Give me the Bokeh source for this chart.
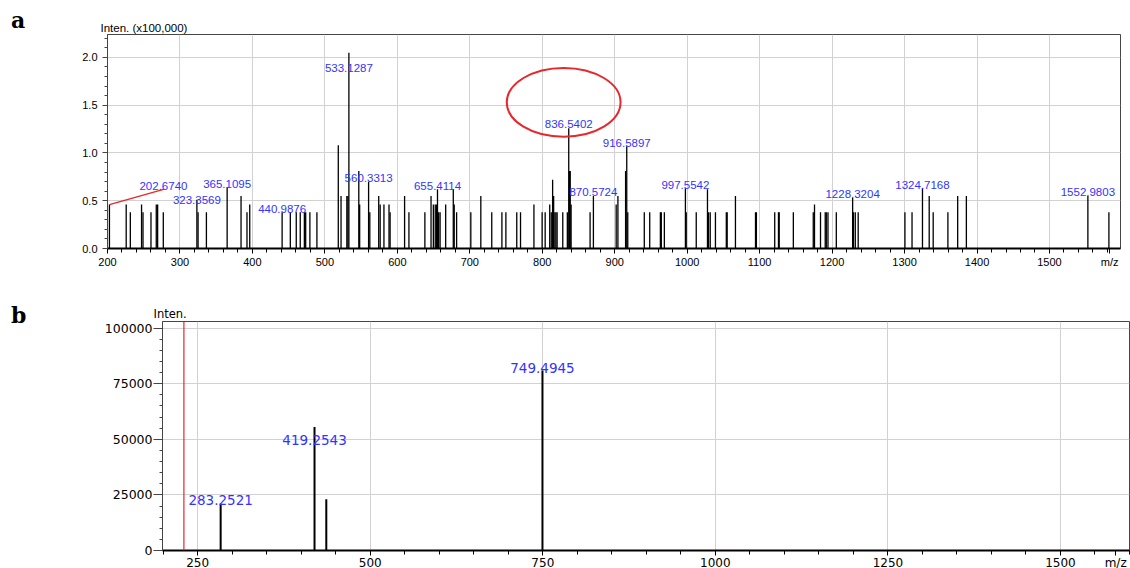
from bokeh.plotting import figure
from bokeh.models import (ColumnDataSource, FixedTicker, Range1d, Div,
                          PrintfTickFormatter, Span)
from bokeh.layouts import row
from bokeh.core.properties import value
from bokeh.embed import file_html
from bokeh.resources import INLINE

# ---------------- spectrum a (intensity in units of 100,000) ----------------
a_mz = [202.6740, 225.8, 231.5, 247.0, 249.0, 260.0, 267.3, 269.2, 277.0,
        323.3569, 325.0, 336.5, 365.1095, 384.3, 392.5, 396.3,
        440.9876, 452.3, 460.5, 466.0, 471.7, 473.5, 479.3, 489.0,
        518.5, 522.3, 530.3, 531.8, 533.1287, 546.8, 548.0, 560.3313, 562.0,
        574.3, 576.3, 581.5, 588.5, 590.0, 610.0, 616.0, 638.0, 646.5, 649.7,
        652.3, 654.0, 655.4114, 657.0, 659.0, 666.7, 677.2, 678.5, 681.8,
        701.4, 715.2, 730.3, 744.3, 749.8, 764.8, 770.0, 788.5, 799.8, 804.0,
        810.3, 812.4, 814.3, 815.7, 817.4, 818.9, 820.5, 828.3, 834.6,
        836.5402, 837.5, 838.6, 839.8, 866.0, 870.5724,
        902.0, 904.4, 915.0, 916.5897, 918.0, 940.8, 948.3, 963.0, 964.3,
        968.5, 997.5542, 998.7,
        1012.5, 1028.0, 1029.4, 1031.8, 1039.0, 1054.0, 1055.2, 1066.6,
        1094.3, 1095.5, 1120.8, 1126.0, 1127.0, 1146.5, 1174.0, 1175.7,
        1184.0, 1190.5, 1192.0, 1194.3, 1205.8, 1228.3204, 1229.5, 1232.0,
        1236.0, 1300.5, 1310.3, 1324.7168, 1334.0, 1339.5, 1359.8, 1373.3,
        1385.3, 1552.9803, 1582.0]
a_int = [0.46, 0.46, 0.38, 0.46, 0.38, 0.38, 0.46, 0.46, 0.38,
         0.51, 0.38, 0.38, 0.64, 0.55, 0.38, 0.46,
         0.38, 0.38, 0.38, 0.38, 0.38, 0.38, 0.38, 0.38,
         1.08, 0.55, 0.55, 0.55, 2.05, 0.81, 0.46, 0.70, 0.38,
         0.55, 0.46, 0.46, 0.46, 0.38, 0.55, 0.38, 0.38, 0.55, 0.46,
         0.46, 0.46, 0.62, 0.38, 0.38, 0.46, 0.62, 0.46, 0.38,
         0.38, 0.55, 0.38, 0.38, 0.38, 0.38, 0.38, 0.46, 0.38, 0.38,
         0.46, 0.38, 0.72, 0.55, 0.38, 0.38, 0.38, 0.38, 0.38,
         1.26, 0.81, 0.81, 0.46, 0.38, 0.55,
         0.46, 0.55, 0.81, 1.07, 0.38, 0.38, 0.38, 0.38, 0.38,
         0.38, 0.63, 0.38,
         0.38, 0.62, 0.38, 0.38, 0.38, 0.38, 0.38, 0.55,
         0.38, 0.38, 0.38, 0.38, 0.38, 0.38, 0.38, 0.46,
         0.38, 0.38, 0.38, 0.38, 0.38, 0.53, 0.38, 0.38,
         0.38, 0.38, 0.38, 0.63, 0.55, 0.38, 0.38, 0.55,
         0.55, 0.55, 0.38]
a_labels = [202.6740, 323.3569, 365.1095, 440.9876, 533.1287, 560.3313,
            655.4114, 836.5402, 870.5724, 916.5897, 997.5542, 1228.3204,
            1324.7168, 1552.9803]
a_highlight = 836.5402
a_xticks = [200, 300, 400, 500, 600, 700, 800, 900, 1000, 1100, 1200, 1300, 1400, 1500]
a_yticks = [0.0, 0.5, 1.0, 1.5, 2.0]

# ---------------- spectrum b (absolute intensity) ----------------
b_mz = [283.2521, 419.2543, 436.3, 749.4945]
b_int = [21000, 55500, 23100, 81000]
b_labels = [283.2521, 419.2543, 749.4945]
b_marker = 230.0
b_xticks = [250, 500, 750, 1000, 1250, 1500]
b_yticks = [0, 25000, 50000, 75000, 100000]

BLUE = "#3333ff"
RED = "#e8262b"
GRID = "#d2d2d2"
FRAME = "#454545"
LETTER_W = 40  # width of the column holding the panel letter
PAD_L = 11


def panel_letter(letter, height, top_pad):
    return Div(text=letter, width=LETTER_W, height=height - top_pad,
               margin=0,
               styles={"font-family": "'DejaVu Serif'", "font-weight": "bold",
                       "font-size": "22px", "line-height": "22px",
                       "padding-left": f"{PAD_L}px",
                       "padding-top": f"{top_pad}px",
                       "color": "black"})


def style_axes(p, font, size, tick_out_x, tick_out_y, minor_out, standoff_y):
    p.outline_line_color = FRAME
    p.outline_line_width = 1
    p.background_fill_color = "white"
    p.border_fill_color = "white"
    for ax in p.xaxis:
        ax.axis_line_color = "black"
        ax.axis_line_width = 2
        ax.major_tick_out = tick_out_x
        ax.major_tick_in = 0
        ax.minor_tick_out = minor_out
        ax.minor_tick_in = 0
        ax.major_tick_line_color = "black"
        ax.minor_tick_line_color = "black"
        ax.major_label_text_font = font
        ax.major_label_text_font_size = size
        ax.major_label_text_color = "black"
        ax.major_label_standoff = 2
    for ax in p.yaxis:
        ax.axis_line_color = FRAME
        ax.axis_line_width = 1
        ax.major_tick_out = tick_out_y
        ax.major_tick_in = 0
        ax.minor_tick_out = minor_out - 1
        ax.minor_tick_in = 0
        ax.major_tick_line_color = FRAME
        ax.minor_tick_line_color = FRAME
        ax.major_label_text_font = font
        ax.major_label_text_font_size = size
        ax.major_label_text_color = "black"
        ax.major_label_standoff = standoff_y
    p.xgrid.grid_line_color = GRID
    p.ygrid.grid_line_color = GRID
    p.xgrid.grid_line_width = 1
    p.ygrid.grid_line_width = 1


# ================= panel a =================
ax0, ax1, ay0, ay1 = 200, 1598, 0, 2.24
fw1, fh1 = 1013, 214
mz_tick_a = 1583  # position of the "m/z" caption on the axis
p1 = figure(frame_width=fw1, frame_height=fh1,
            x_range=Range1d(ax0, ax1), y_range=Range1d(ay0, ay1),
            output_backend="svg", toolbar_location=None,
            min_border_left=107 - LETTER_W, min_border_right=10,
            min_border_top=34, min_border_bottom=40)
p1.title.text = "Inten. (x100,000)"
p1.title.align = "left"
p1.title.offset = -7
p1.title.standoff = 1
p1.title.text_font = "Liberation Sans"
p1.title.text_font_size = "11.5px"
p1.title.text_font_style = "normal"
p1.title.text_color = "black"

p1.xaxis.ticker = FixedTicker(ticks=a_xticks + [mz_tick_a],
                              minor_ticks=list(range(200, 1600, 20)))
p1.xaxis.major_label_overrides = {mz_tick_a: "m/z"}
p1.yaxis.ticker = FixedTicker(ticks=a_yticks,
                              minor_ticks=[i / 10 for i in range(0, 23)])
p1.yaxis.formatter = PrintfTickFormatter(format="%.1f")
style_axes(p1, "Liberation Sans", "11px", 5, 5, 4, 5)
p1.xgrid.ticker = FixedTicker(ticks=a_xticks)

src_a = ColumnDataSource(dict(x=a_mz, y0=[0] * len(a_mz), y1=a_int))
p1.segment(x0="x", y0="y0", x1="x", y1="y1", source=src_a,
           line_color="black", line_width=1.3)

# highlighted peak: ellipse drawn around its apex
hl_int = a_int[a_mz.index(a_highlight)]
p1.ellipse(x=a_highlight - 7, y=hl_int + 0.27, width=157, height=0.72,
           fill_color=None, line_color=RED, line_width=2)

# peak annotations (screen offsets in px: dx right, dy down)
offsets_a = {202.6740: (54, -19), 323.3569: (0, 0), 533.1287: (0, 15),
             836.5402: (0, -4)}
lab_y = [a_int[a_mz.index(m)] for m in a_labels]
lab_dx = [offsets_a.get(m, (0, -3.5))[0] for m in a_labels]
lab_dy = [offsets_a.get(m, (0, -3.5))[1] for m in a_labels]
src_la = ColumnDataSource(dict(x=a_labels, y=lab_y, dx=lab_dx, dy=lab_dy,
                               t=["%.4f" % m for m in a_labels]))
p1.text(x="x", y="y", text="t", x_offset="dx", y_offset="dy", source=src_la,
        text_align="center", text_baseline="middle", text_color=BLUE,
        text_font=value("Liberation Sans"), text_font_size="11.5px")

# leader line from the first peak to its shifted label
sx1 = fw1 / (ax1 - ax0)
sy1 = fh1 / (ay1 - ay0)
m0, i0 = a_labels[0], lab_y[0]
p1.segment(x0=[m0], y0=[i0], x1=[m0 + 55 / sx1], y1=[i0 + 15.5 / sy1],
           line_color=RED, line_width=1.3)

# ================= panel b =================
bx0, bx1, by0, by1 = 199, 1600, 0, 103000
fw2, fh2 = 967, 229
mz_tick_b = 1580
p2 = figure(frame_width=fw2, frame_height=fh2,
            x_range=Range1d(bx0, bx1), y_range=Range1d(by0, by1),
            output_backend="svg", toolbar_location=None,
            min_border_left=162 - LETTER_W, min_border_right=1,
            min_border_top=33, min_border_bottom=10)
p2.title.text = "Inten."
p2.title.align = "left"
p2.title.offset = -9
p2.title.standoff = 1
p2.title.text_font = "DejaVu Sans"
p2.title.text_font_size = "11.5px"
p2.title.text_font_style = "normal"
p2.title.text_color = "black"

p2.xaxis.ticker = FixedTicker(ticks=b_xticks + [mz_tick_b],
                              minor_ticks=list(range(200, 1601, 50)))
p2.xaxis.major_label_overrides = {mz_tick_b: "m/z"}
p2.yaxis.ticker = FixedTicker(ticks=b_yticks,
                              minor_ticks=list(range(0, 103000, 5000)))
p2.yaxis.formatter = PrintfTickFormatter(format="%d")
style_axes(p2, "DejaVu Sans", "12.5px", 5, 9, 4, 1)
p2.xaxis.major_label_text_font_size = "12px"
p2.xaxis.major_label_standoff = 0
p2.xgrid.ticker = FixedTicker(ticks=b_xticks)

p2.add_layout(Span(location=b_marker, dimension="height", line_color=RED,
                   line_width=1.2))

src_b = ColumnDataSource(dict(x=b_mz, y0=[0] * len(b_mz), y1=b_int))
p2.segment(x0="x", y0="y0", x1="x", y1="y1", source=src_b,
           line_color="black", line_width=2)

offsets_b = {283.2521: -4, 419.2543: 13, 749.4945: -2}
src_lb = ColumnDataSource(dict(
    x=b_labels, y=[b_int[b_mz.index(m)] for m in b_labels],
    dy=[offsets_b[m] for m in b_labels], t=["%.4f" % m for m in b_labels]))
p2.text(x="x", y="y", text="t", y_offset="dy", source=src_lb,
        text_align="center", text_baseline="middle", text_color=BLUE,
        text_font=value("DejaVu Sans"), text_font_size="13.5px")

top_row = row(panel_letter("a", 288, 9), p1, spacing=0)
bottom_row = row(panel_letter("b", 280, 16), p2, spacing=0)
open("out.html", "w").write(file_html([top_row, bottom_row], INLINE))
